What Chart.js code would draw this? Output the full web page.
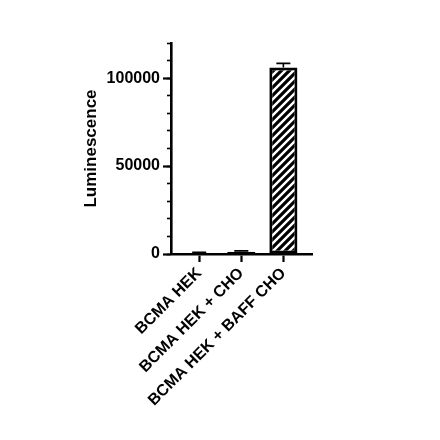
<!DOCTYPE html>
<html>
<head>
<meta charset="utf-8">
<script src="https://cdn.jsdelivr.net/npm/chart.js@4.4.1/dist/chart.umd.min.js"></script>
<style>
html, body { margin: 0; padding: 0; background: #ffffff; }
#wrap { width: 440px; height: 440px; }
</style>
</head>
<body>
<div id="wrap"><canvas id="c" width="440" height="440"></canvas></div>
<script>
// ---- data ----
const categories = ['BCMA HEK', 'BCMA HEK + CHO', 'BCMA HEK + BAFF CHO'];
const positions = [0, 1, 2];
const luminescence = [200, 1300, 106000];
const errors = [700, 500, 2400];
const yMajorTicks = [0, 50000, 100000];
const yMinorTicks = [0, 10000, 20000, 30000, 40000, 50000, 60000, 70000, 80000, 90000, 100000, 110000, 120000];
const yTitle = 'Luminescence';

// ---- styles ----
const FONT = "'Liberation Sans', Arial, sans-serif";
const X_MIN = -0.67, X_MAX = 2.68;

function hatchPattern() {
  const c = document.createElement('canvas');
  c.width = 8; c.height = 8;
  const g = c.getContext('2d');
  g.fillStyle = '#ffffff';
  g.fillRect(0, 0, 8, 8);
  g.strokeStyle = '#000000';
  g.lineWidth = 3.2;
  g.beginPath();
  g.moveTo(-2, 10); g.lineTo(10, -2);
  g.moveTo(-2, 2); g.lineTo(2, -2);
  g.moveTo(6, 10); g.lineTo(10, 6);
  g.stroke();
  return g.createPattern(c, 'repeat');
}

const errorBars = {
  id: 'errorBars',
  afterDatasetsDraw(chart) {
    const meta = chart.getDatasetMeta(0);
    const yScale = chart.scales.y;
    const ctx = chart.ctx;
    ctx.save();
    ctx.strokeStyle = '#000000';
    ctx.lineWidth = 1.6;
    meta.data.forEach((bar, i) => {
      const top = yScale.getPixelForValue(luminescence[i] + errors[i]);
      const half = bar.width * 0.25;
      ctx.beginPath();
      ctx.moveTo(bar.x, bar.y);
      ctx.lineTo(bar.x, top);
      ctx.moveTo(bar.x - half, top);
      ctx.lineTo(bar.x + half, top);
      ctx.stroke();
    });
    ctx.restore();
  }
};

new Chart(document.getElementById('c'), {
  type: 'bar',
  data: {
    datasets: [{
      data: positions.map((x, i) => ({ x: x, y: luminescence[i] })),
      backgroundColor: hatchPattern(),
      borderColor: '#000000',
      borderWidth: 3,
      borderSkipped: false,
      barPercentage: 0.667,
      categoryPercentage: 1
    }]
  },
  options: {
    responsive: false,
    animation: false,
    layout: { padding: { left: 77, right: 128, top: 43, bottom: 0 } },
    plugins: { legend: { display: false }, tooltip: { enabled: false } },
    scales: {
      x: {
        type: 'linear',
        position: 'bottom',
        bounds: 'data',
        offset: false,
        min: X_MIN,
        max: X_MAX,
        afterDataLimits: s => { s.min = X_MIN; s.max = X_MAX; },
        afterBuildTicks: s => { s.ticks = positions.map(v => ({ value: v })); },
        afterFit: s => { s.height = 186; },
        ticks: {
          autoSkip: false,
          minRotation: 45,
          maxRotation: 45,
          padding: 2,
          color: '#000000',
          font: { family: FONT, weight: 'bold', size: 16 },
          callback: (v, i) => categories[i]
        },
        grid: { offset: false, drawOnChartArea: false, tickLength: 8, tickWidth: 2.2, tickColor: '#000000' },
        border: { color: '#000000', width: 2.6 }
      },
      y: {
        position: 'left',
        weight: 1,
        min: 0,
        max: 120000,
        afterBuildTicks: s => { s.ticks = yMajorTicks.map(v => ({ value: v })); },
        afterFit: s => { s.width = 94; },
        ticks: {
          padding: 3,
          color: '#000000',
          font: { family: FONT, weight: 'bold', size: 16 },
          callback: v => String(v)
        },
        grid: { drawOnChartArea: false, tickLength: 8, tickWidth: 2.2, tickColor: '#000000' },
        border: { color: '#000000', width: 2.6 },
        title: {
          display: true,
          text: yTitle,
          color: '#000000',
          font: { family: FONT, weight: 'bold', size: 17 },
          padding: { top: 4, bottom: 4 }
        }
      },
      y2: {
        position: 'left',
        weight: 0,
        min: 0,
        max: 120000,
        afterBuildTicks: s => { s.ticks = yMinorTicks.map(v => ({ value: v })); },
        afterFit: s => { s.width = 0; },
        ticks: { display: false },
        grid: { drawOnChartArea: false, tickLength: 4, tickWidth: 1.6, tickColor: '#000000' },
        border: { display: false }
      }
    }
  },
  plugins: [errorBars]
});
</script>
</body>
</html>
